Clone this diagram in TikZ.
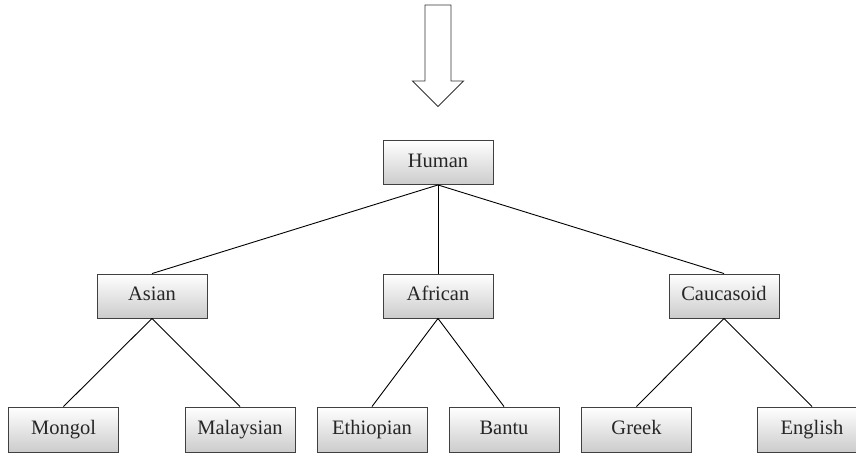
\documentclass[tikz,border=0pt]{standalone}
\usepackage{fontspec}
\setmainfont{Liberation Serif}
\begin{document}
\begin{tikzpicture}[x=1pt,y=-1pt,
  box/.style={draw=black!75,line width=0.9pt,top color=white,bottom color=black!20,
    minimum width=110pt,minimum height=44pt,inner sep=0pt,text height=14pt,text depth=4.5pt,
    font=\fontsize{20.5}{24}\selectfont,text=black!85},
  link/.style={draw=black,line width=0.9pt}]
\useasboundingbox (0,0) rectangle (856,453);
\begin{scope}
\clip (0,0) rectangle (856,453);
\draw[line width=0.9pt,draw=black!80] (425,5) -- (451,5) -- (451,81) -- (463.5,81) -- (438,106.5) -- (412.5,81) -- (425,81) -- cycle;
\node[box] (human) at (438,162.5) {Human};
\node[box] (asian) at (152,296) {Asian};
\node[box] (african) at (438,296) {African};
\node[box] (cauc) at (724,296) {Caucasoid};
\node[box,minimum height=45pt] (mongol) at (63.5,429.5) {Mongol};
\node[box,minimum height=45pt] (malay) at (240,429.5) {Malaysian};
\node[box,minimum height=45pt] (ethio) at (372,429.5) {Ethiopian};
\node[box,minimum height=45pt] (bantu) at (504,429.5) {Bantu};
\node[box,minimum height=45pt] (greek) at (636.5,429.5) {Greek};
\node[box,minimum height=45pt] (english) at (812,429.5) {English};
\draw[link] (human.south) -- (asian.north);
\draw[link] (human.south) -- (african.north);
\draw[link] (human.south) -- (cauc.north);
\draw[link] (asian.south) -- (mongol.north);
\draw[link] (asian.south) -- (malay.north);
\draw[link] (african.south) -- (ethio.north);
\draw[link] (african.south) -- (bantu.north);
\draw[link] (cauc.south) -- (greek.north);
\draw[link] (cauc.south) -- (english.north);
\end{scope}
\end{tikzpicture}
\end{document}
